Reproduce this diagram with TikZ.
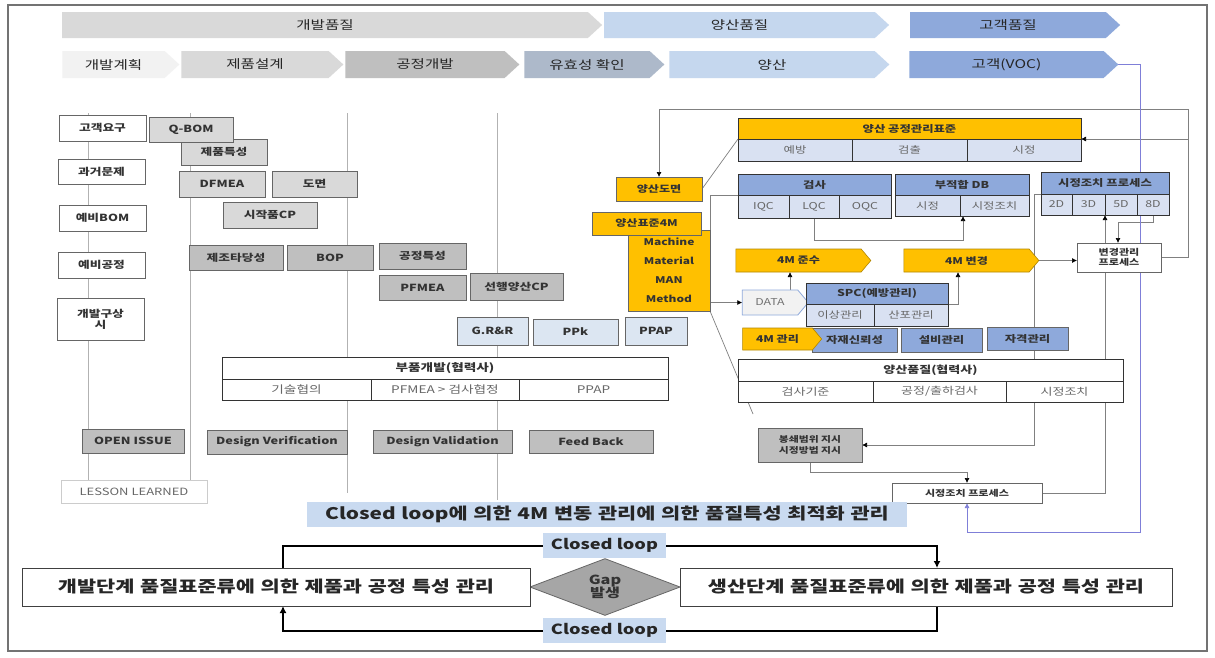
\documentclass[tikz,border=0pt]{standalone}
\usepackage{fontspec}
\setmainfont{Noto Sans CJK KR}[FakeStretch=1.3]
\newfontfamily\bigk[FakeStretch=1.3,WordSpace=1.2]{Noto Sans CJK KR}
\usetikzlibrary{arrows.meta,shapes.symbols,shapes.geometric,backgrounds}
\definecolor{og}{HTML}{FFC000}
\definecolor{bt}{HTML}{8EA9DB}
\definecolor{bl}{HTML}{D9E1F2}
\definecolor{g0}{HTML}{F2F2F2}
\definecolor{g1}{HTML}{D9D9D9}
\definecolor{g2}{HTML}{BFBFBF}
\definecolor{hb1}{HTML}{C5D7EE}
\definecolor{hgb}{HTML}{ADB9CA}
\definecolor{lb}{HTML}{DCE6F2}
\definecolor{bn}{HTML}{C9DAF0}
\definecolor{pur}{HTML}{7F7FD8}
\newcommand\bx[7]{\node[#6,minimum width={(#4)-(#2)},minimum height={(#5)-(#3)}] (#1) at ({((#2)+(#4))/2},{((#3)+(#5))/2}) {#7};}
\tikzset{
 base/.style={inner sep=0pt,outer sep=0pt,align=center,font=\fontsize{9.5}{11}\selectfont,text=black!80},
 hdr/.style={base,signal,signal to=east,signal from=nowhere,signal pointer angle=85,font=\fontsize{12}{14}\selectfont,text=black!85},
 lbox/.style={base,draw=black!60,line width=0.7pt,fill=white,font=\fontsize{9.8}{11}\bfseries\selectfont},
 g1box/.style={lbox,fill=g1},
 g2box/.style={lbox,fill=g2},
 bbox/.style={lbox,fill=lb},
 bxb/.style={lbox,fill=bt,font=\fontsize{9.5}{11}\bfseries\selectfont},
 wbox/.style={lbox,font=\fontsize{8.5}{10}\bfseries\selectfont},
 obox/.style={lbox,fill=og,font=\fontsize{9.3}{11}\bfseries\selectfont},
 tbox/.style={base,draw=black!80,line width=0.9pt,fill=white,font=\fontsize{9.5}{11}\bfseries\selectfont},
 cbox/.style={base,draw=black!80,line width=0.9pt,fill=white,text=black!60,font=\fontsize{9.5}{11}\selectfont},
 otbox/.style={tbox,fill=og},
 btbox/.style={tbox,fill=bt},
 lcbox/.style={cbox,fill=bl},
 oarr/.style={base,signal,signal to=east,signal from=nowhere,signal pointer angle=100,fill=og,draw=og!70!black,line width=0.6pt,font=\fontsize{9.3}{11}\bfseries\selectfont},
 darr/.style={base,signal,signal to=east,signal from=nowhere,signal pointer angle=100,fill=g0,draw=bt,line width=0.8pt,text=black!55,font=\fontsize{9.5}{11}\selectfont},
 banner/.style={base,fill=bn,font=\bigk\fontsize{16}{18}\bfseries\selectfont,text=black!85},
 cll/.style={base,fill=bn,font=\fontsize{14}{16}\bfseries\selectfont,text=black!85},
 bigbox/.style={base,draw=black!75,line width=1pt,fill=white,font=\bigk\fontsize{16}{18}\bfseries\selectfont,text=black!85},
 gapd/.style={base,diamond,draw=black!60,line width=0.8pt,fill=black!35,minimum width=150,minimum height=54,font=\fontsize{12.5}{13.5}\bfseries\selectfont},
 conn/.style={draw=black!50,line width=0.7pt},
 arr/.style={conn,-{Latex[length=5pt,width=5pt,color=black]}},
 parr/.style={draw=pur,line width=0.7pt,-{Latex[length=5pt,width=5pt]}},
 bline/.style={draw=black,line width=2pt},
 barr/.style={bline,-{Latex[length=7pt,width=7pt]}},
 vline/.style={draw=black!30,line width=0.7pt},
}
\begin{document}
\begin{tikzpicture}[x=1pt,y=-1pt]
\useasboundingbox (0,0) rectangle (1215,657);
\begin{scope}[on background layer]
\fill[white] (0,0) rectangle (1215,657);
\draw[black!55,line width=1.5pt] (8,5) rectangle (1207,651);
\draw[vline] (88,113) -- (88,480);
\draw[vline] (190,113) -- (190,480);
\draw[vline] (347,113) -- (347,493);
\draw[vline] (497,113) -- (497,500);
\end{scope}
% header
\bx{h1}{55}{12}{595}{38}{hdr,fill=g1}{개발품질}
\bx{h2}{597}{12}{882}{38}{hdr,fill=hb1}{양산품질}
\bx{h3}{903}{12}{1113}{38}{hdr,fill=bt}{고객품질}
\bx{s1}{55}{51}{172}{78}{hdr,fill=g0}{개발계획}
\bx{s2}{174}{51}{336}{78}{hdr,fill=g1}{제품설계}
\bx{s3}{338}{51}{512}{78}{hdr,fill=g2}{공정개발}
\bx{s4}{517}{51}{657}{78}{hdr,fill=hgb}{유효성 확인}
\bx{s5}{662}{51}{882}{78}{hdr,fill=hb1}{양산}
\bx{s6}{902}{51}{1111}{78}{hdr,fill=bt}{고객(VOC)}
% left column
\bx{kr}{59}{115}{146}{141}{lbox}{고객요구}
\bx{gm}{58}{159}{145}{184}{lbox}{과거문제}
\bx{pb}{59}{205}{146}{231}{lbox}{예비BOM}
\bx{pp}{58}{252}{145}{278}{lbox}{예비공정}
\bx{gs}{57}{298}{144}{340}{lbox}{개발구상\\시}
\bx{jt}{181}{139}{267}{165}{g1box}{제품특성}
\bx{qb}{149}{117}{233}{142}{g1box}{Q-BOM}
\bx{df}{179}{171}{265}{197}{g1box}{DFMEA}
\bx{dm}{272}{171}{357}{197}{g1box}{도면}
\bx{sc}{223}{202}{317}{228}{g1box}{시작품CP}
\bx{jo}{189}{245}{283}{270}{g2box}{제조타당성}
\bx{bop}{287}{245}{373}{270}{g2box}{BOP}
\bx{gt}{379}{243}{466}{269}{g2box}{공정특성}
\bx{pf}{379}{275}{466}{300}{g2box}{PFMEA}
\bx{sy}{470}{273}{563}{300}{g2box}{선행양산CP}
\bx{gr}{457}{317}{528}{345}{bbox}{G.R\&R}
\bx{ppk}{533}{319}{618}{345}{bbox}{PPk}
\bx{ppap}{625}{317}{687}{345}{bbox}{PPAP}
\bx{bpT}{222}{357}{668}{379}{tbox,font=\fontsize{10.5}{12}\bfseries\selectfont}{부품개발(협력사)}
\bx{bp1}{222}{379}{371}{400}{cbox,font=\fontsize{10.5}{12}\selectfont}{기술협의}
\bx{bp2}{371}{379}{519}{400}{cbox,font=\fontsize{10.5}{12}\selectfont}{PFMEA > 검사협정}
\bx{bp3}{519}{379}{668}{400}{cbox,font=\fontsize{10.5}{12}\selectfont}{PPAP}
\bx{oi}{82}{429}{184}{453}{g2box}{OPEN ISSUE}
\bx{dv}{207}{430}{347}{454}{g2box}{Design Verification}
\bx{dval}{373}{430}{512}{453}{g2box}{Design Validation}
\bx{fb}{529}{430}{653}{453}{g2box}{Feed Back}
\bx{ll}{61}{480}{207}{503}{base,draw=black!20,fill=white,text=black!60,font=\fontsize{10}{12}\selectfont}{LESSON LEARNED}
% right side
\bx{stdT}{738}{118}{1081}{139}{otbox}{양산 공정관리표준}
\bx{std1}{738}{139}{852}{161}{lcbox}{예방}
\bx{std2}{852}{139}{967}{161}{lcbox}{검출}
\bx{std3}{967}{139}{1081}{161}{lcbox}{시정}
\bx{ysd}{616}{177}{702}{201}{obox}{양산도면}
\bx{insT}{738}{174}{891}{195}{btbox}{검사}
\bx{in1}{738}{195}{789}{218}{lcbox}{IQC}
\bx{in2}{789}{195}{839}{218}{lcbox}{LQC}
\bx{in3}{839}{195}{891}{218}{lcbox}{OQC}
\bx{ncT}{895}{174}{1029}{195}{btbox}{부적합 DB}
\bx{nc1}{895}{195}{960}{216}{lcbox}{시정}
\bx{nc2}{960}{195}{1029}{216}{lcbox}{시정조치}
\bx{capT}{1041}{172}{1169}{194}{btbox}{시정조치 프로세스}
\bx{d2}{1041}{194}{1072}{215}{lcbox}{2D}
\bx{d3}{1072}{194}{1105}{215}{lcbox}{3D}
\bx{d5}{1105}{194}{1137}{215}{lcbox}{5D}
\bx{d8}{1137}{194}{1169}{215}{lcbox}{8D}
\bx{mach}{628}{230}{710}{311}{obox,font=\fontsize{9.2}{19}\bfseries\selectfont}{Machine\\Material\\MAN\\Method}
\bx{ys4}{592}{212}{701}{235}{obox}{양산표준4M}
\bx{m4k}{731}{249}{866}{272}{oarr}{4M 준수}
\bx{m4c}{899}{249}{1034}{272}{oarr}{4M 변경}
\bx{chg}{1077}{243}{1161}{272}{wbox}{변경관리\\프로세스}
\bx{data}{737}{290}{803}{315}{darr}{DATA}
\bx{spcT}{806}{283}{948}{304}{btbox}{SPC(예방관리)}
\bx{sp1}{806}{304}{874}{326}{lcbox}{이상관리}
\bx{sp2}{874}{304}{948}{326}{lcbox}{산포관리}
\bx{jj}{812}{328}{897}{352}{bxb}{자재신뢰성}
\bx{sb}{901}{328}{982}{352}{bxb}{설비관리}
\bx{jg}{987}{327}{1068}{350}{bxb}{자격관리}
\bx{m4m}{738}{328}{817}{350}{oarr}{4M 관리}
\bx{yqT}{738}{359}{1123}{381}{tbox,font=\fontsize{10}{12}\bfseries\selectfont}{양산품질(협력사)}
\bx{yq1}{738}{381}{873}{402}{cbox,font=\fontsize{10}{12}\selectfont}{검사기준}
\bx{yq2}{873}{381}{1006}{402}{cbox,font=\fontsize{10}{12}\selectfont}{공정/출하검사}
\bx{yq3}{1006}{381}{1123}{402}{cbox,font=\fontsize{10}{12}\selectfont}{시정조치}
\bx{cont}{758}{428}{862}{462}{g2box,font=\fontsize{8.3}{10.5}\bfseries\selectfont}{봉쇄범위 지시\\시정방법 지시}
\bx{capL}{892}{483}{1042}{503}{wbox}{시정조치 프로세스}
% bottom
\bx{ban}{307}{502}{907}{527}{banner}{Closed loop에 의한 4M 변동 관리에 의한 품질특성 최적화 관리}
\bx{cl1}{543}{533}{666}{558}{cll}{Closed loop}
\bx{cl2}{543}{618}{666}{643}{cll}{Closed loop}
\node[gapd] (gap) at (605,587) {Gap\\발생};
\bx{lbx}{22}{568}{530}{606}{bigbox}{개발단계 품질표준류에 의한 제품과 공정 특성 관리}
\bx{rbx}{680}{568}{1172}{606}{bigbox}{생산단계 품질표준류에 의한 제품과 공정 특성 관리}
% connectors
\begin{scope}[on background layer]
\coordinate (c1) at (1188,109);
\draw[arr] (chg.east) -| (c1) -| (ysd.north);
\draw[arr] (stdT.south east -| c1) -- (stdT.south east);
\draw[conn] (ysd.east) -- (stdT.south west);
\draw[conn] (insT.south west) -| (mach.north east);
\coordinate (c5) at (963,240);
\draw[arr] (in2.south) |- (c5) -- (c5 |- nc2.south);
\coordinate (c6) at (1034,194);
\draw[arr] (capT.south west) -- (c6) |- (cont.east);
\coordinate (c7) at (1118,222);
\draw[arr] (d8.south) |- (c7) -- (c7 |- chg.north);
\draw[arr] (capL.east) -| (d3.south east);
\draw[arr] (m4c.east) -- (m4c.east -| chg.west);
\draw[arr] (data.west -| mach.east) -- (data.west);
\coordinate (c11) at (790,290);
\draw[arr] (c11) -- (c11 |- m4k.south);
\coordinate (c12) at (958,304);
\draw[arr] (spcT.south east) -- (c12) -- (c12 |- m4c.south);
\coordinate (c13) at (753,414);
\draw[conn] (mach.south east) -- (c13);
\coordinate (c14) at (967,472);
\draw[arr] (cont.south) |- (c14) -- (capL.north);
\coordinate (c15) at (1140,532);
\draw[parr] (s6.east) -| (c15) -| (capL.south);
\coordinate (xl) at (283,0);
\coordinate (xr) at (937,0);
\draw[bline] (lbx.north -| xl) |- (cl1.west);
\draw[barr] (cl1.east) -| (rbx.north -| xr);
\draw[bline] (rbx.south -| xr) |- (cl2.east);
\draw[barr] (cl2.west) -| (lbx.south -| xl);
\end{scope}
\end{tikzpicture}
\end{document}
